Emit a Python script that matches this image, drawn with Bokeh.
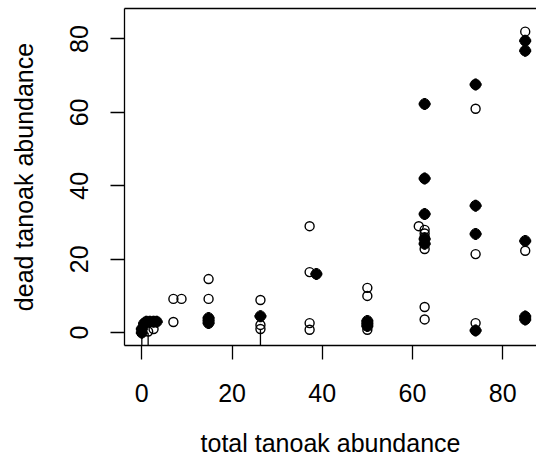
from bokeh.plotting import figure
from bokeh.models import Range1d, LinearAxis, FixedTicker
from bokeh.embed import file_html
from bokeh.resources import INLINE

# Plot units: total tanoak abundance vs. dead tanoak abundance
x_open = [1.4, 2.6, 7.0, 8.8, 7.0, 14.8, 14.8, 26.3, 26.3, 26.3,
          37.2, 37.2, 37.2, 37.2, 50.0, 50.0, 50.0,
          61.4, 62.7, 62.7, 62.7, 62.7, 62.7, 62.7,
          74.0, 74.0, 74.0, 85.0, 85.0]
y_open = [0.3, 1.0, 9.2, 9.2, 2.9, 14.6, 9.2, 8.9, 2.1, 1.0,
          29.0, 16.5, 2.6, 0.8, 12.2, 10.0, 0.8,
          29.0, 28.0, 27.0, 26.0, 22.8, 7.0, 3.6,
          61.0, 21.4, 2.6, 82.0, 22.3]

x_filled = [0.0, 0.0, 0.5, 1.0, 1.8, 2.6, 3.3,
            14.8, 14.8, 14.8, 26.3, 38.7,
            50.0, 50.0, 50.0,
            62.7, 62.7, 62.7, 62.7, 62.7,
            74.0, 74.0, 74.0, 74.0,
            85.0, 85.0, 85.0, 85.0, 85.0]
y_filled = [0.0, 1.0, 2.5, 3.0, 3.0, 3.0, 3.0,
            4.0, 3.3, 2.6, 4.5, 16.0,
            3.2, 2.5, 1.8,
            62.3, 42.0, 32.3, 25.5, 24.2,
            67.6, 34.6, 26.9, 0.6,
            79.5, 76.8, 25.0, 4.4, 3.6]

# plots whose value runs below the axis
x_stem = [0.0, 1.4, 26.3]
y_stem = [0.0, 0.0, 1.0]

x_ticks = [0, 20, 40, 60, 80]
y_ticks = [0, 20, 40, 60, 80]

FONT = "Liberation Sans"
FS = "25px"

p = figure(width=536, height=470,
           x_range=Range1d(-3.84, 87.5), y_range=Range1d(-3.5, 88.3),
           min_border_left=124, min_border_right=0,
           min_border_top=8, min_border_bottom=125,
           x_axis_location=None, y_axis_location=None,
           output_backend="svg", toolbar_location=None)
p.grid.visible = False
p.outline_line_color = None
p.background_fill_color = "white"
p.border_fill_color = "white"


def style_axis(ax):
    ax.axis_line_color = "black"
    ax.axis_line_width = 1.3
    ax.major_tick_line_color = "black"
    ax.major_tick_line_width = 1.3
    ax.major_tick_in = 0
    ax.major_tick_out = 14
    ax.minor_tick_line_color = None
    ax.major_label_text_font = FONT
    ax.major_label_text_font_size = FS
    ax.major_label_text_color = "black"
    ax.axis_label_text_font = FONT
    ax.axis_label_text_font_size = FS
    ax.axis_label_text_font_style = "normal"
    ax.axis_label_text_color = "black"


xa = LinearAxis(ticker=FixedTicker(ticks=x_ticks), axis_label="total tanoak abundance")
style_axis(xa)
xa.major_label_standoff = 24
xa.axis_label_standoff = 24
p.add_layout(xa, "below")

ya = LinearAxis(ticker=FixedTicker(ticks=y_ticks), axis_label="dead tanoak abundance")
style_axis(ya)
ya.major_label_orientation = "vertical"
ya.major_label_standoff = 22
ya.axis_label_standoff = 30
p.add_layout(ya, "left")

top = LinearAxis(ticker=FixedTicker(ticks=[]))
top.axis_line_color = "black"
top.axis_line_width = 1.3
top.major_tick_line_color = None
top.minor_tick_line_color = None
top.major_label_text_font_size = "0px"
p.add_layout(top, "above")

p.segment(x0=x_stem, y0=y_stem, x1=x_stem, y1=[-3.5] * len(x_stem),
          line_color="black", line_width=1.3)

p.scatter(x_open, y_open, marker="circle", size=9, fill_color=None,
          line_color="black", line_width=1.4)

p.scatter(x_filled, y_filled, marker="circle", size=10.5, fill_color="black",
          line_color="black", line_width=1)
p.scatter(x_filled, y_filled, marker="cross", size=12, line_color="black",
          line_width=2.5)

open("out.html", "w").write(file_html(p, INLINE))
